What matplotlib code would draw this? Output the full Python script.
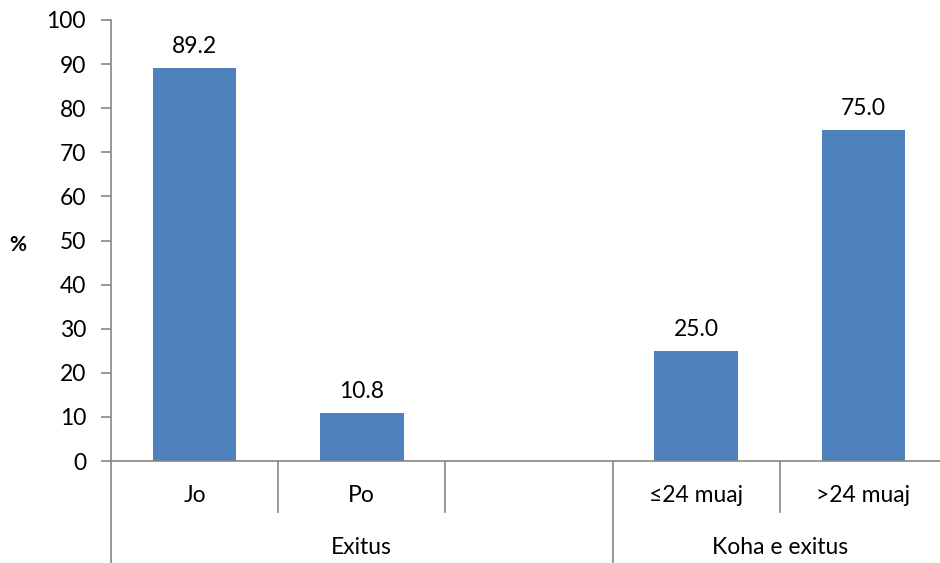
import matplotlib.pyplot as plt
from matplotlib.transforms import blended_transform_factory

plt.rcParams['font.family'] = ['Lato', 'DejaVu Sans']

# kategorite (slot bosh per ndarjen midis grupeve)
categories = ["Jo", "Po", "", "≤24 muaj", ">24 muaj"]
values = [89.2, 10.8, None, 25.0, 75.0]
groups = [("Exitus", 0, 3), ("Koha e exitus", 3, 5)]
yticks = list(range(0, 101, 10))

BAR_COLOR = "#4F81BD"
AXIS_COLOR = "#868686"
FS = 16.5

fig = plt.figure(figsize=(9.4, 5.63), dpi=100)
ax = fig.add_axes([111 / 940, 1 - 461 / 563, (940 - 111) / 940, (461 - 20) / 563])

xs = [i for i, v in enumerate(values) if v is not None]
hs = [v for v in values if v is not None]
ax.bar(xs, hs, width=0.5, color=BAR_COLOR, zorder=2)
for x, h in zip(xs, hs):
    ax.annotate(f"{h:.1f}", (x, h), xytext=(0, 8), textcoords="offset points",
                ha="center", va="bottom", fontsize=FS)

slot = (940 - 111) / 167.2
ax.set_xlim(-0.5, slot - 0.5)
ax.set_ylim(0, 100)
ax.set_yticks(yticks)
ax.tick_params(axis="y", labelsize=FS, length=7, width=1.2, color=AXIS_COLOR, pad=11)
ax.set_xticks([])

for s in ["top", "right"]:
    ax.spines[s].set_visible(False)
for s in ["left", "bottom"]:
    ax.spines[s].set_color(AXIS_COLOR)
    ax.spines[s].set_linewidth(1.2)

ax.set_ylabel("%", rotation=0, fontsize=15, fontweight="bold", labelpad=0,
              va="center", ha="center")
ax.yaxis.set_label_coords(-0.112, 0.49)

# shumënivelëshe bosht kategorish
tr = blended_transform_factory(ax.transData, ax.transAxes)
px = 1 / 441  # nje piksel ne koordinatat e boshtit
inner_bottom = -51 * px
outer_bottom = -102 * px
group_edges = {g[1] for g in groups}
for i in range(len(categories) + 1):
    b = i - 0.5
    if b > slot - 0.5:
        continue
    bottom = outer_bottom if i in group_edges else inner_bottom
    ax.plot([b, b], [0, bottom], transform=tr, color=AXIS_COLOR, lw=1.2,
            clip_on=False)
for i, c in enumerate(categories):
    ax.text(i, -34 * px, c, transform=tr, ha="center", va="center", fontsize=FS)
for name, start, end in groups:
    ax.text((start + end - 1) / 2, -86 * px, name, transform=tr,
            ha="center", va="center", fontsize=FS)

fig.savefig("out.png", dpi=100)
